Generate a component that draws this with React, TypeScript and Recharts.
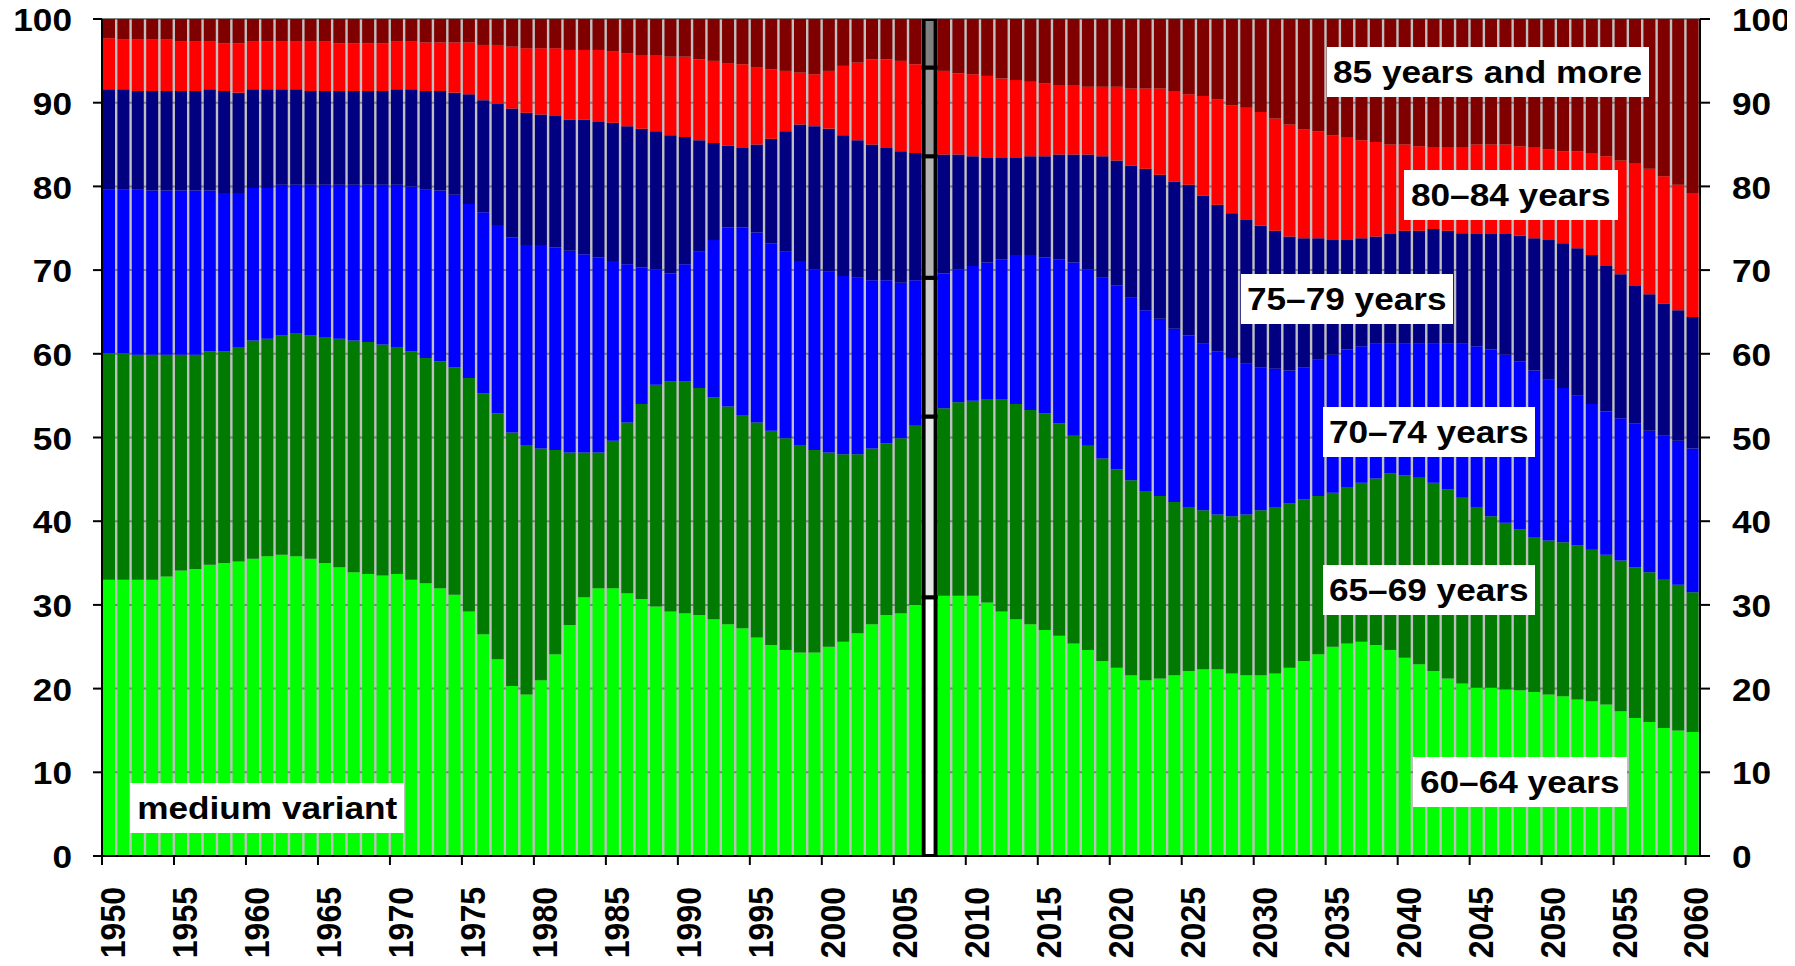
import React from 'react';
import { BarChart, Bar, XAxis, YAxis, CartesianGrid, Cell } from 'recharts';

const firstYear = 1950;
const lastYear = 2060;
const years: number[] = [];
for (let y = firstYear; y <= lastYear; y++) years.push(y);

const highlightYear = 2007;

const yTicks = [0, 10, 20, 30, 40, 50, 60, 70, 80, 90, 100];

// shares (%) of the 60+ population, 1950..2060
const age60to64 = [
  33.0, 33.0, 33.0, 33.0, 33.4, 34.1, 34.3, 34.8, 35.0, 35.2,
  35.5, 35.8, 36.0, 35.8, 35.5, 35.0, 34.5, 33.9, 33.7, 33.5,
  33.7, 33.0, 32.6, 32.0, 31.2, 29.2, 26.5, 23.5, 20.3, 19.3,
  21.0, 24.1, 27.6, 30.9, 32.0, 32.0, 31.4, 30.7, 29.8, 29.2,
  29.0, 28.8, 28.3, 27.7, 27.2, 26.1, 25.2, 24.6, 24.3, 24.3,
  25.0, 25.6, 26.6, 27.7, 28.8, 29.0, 30.0, 30.9, 31.1, 31.1,
  31.1, 30.3, 29.2, 28.3, 27.7, 27.0, 26.3, 25.4, 24.6, 23.3,
  22.5, 21.6, 21.0, 21.2, 21.6, 22.1, 22.3, 22.3, 21.8, 21.6,
  21.6, 21.8, 22.5, 23.3, 24.1, 25.0, 25.4, 25.6, 25.2, 24.6,
  23.7, 22.9, 22.1, 21.2, 20.6, 20.1, 20.1, 19.9, 19.8, 19.6,
  19.3, 19.1, 18.7, 18.5, 18.1, 17.3, 16.5, 16.0, 15.3, 15.0,
  14.8,
];
const age65to69 = [
  27.1, 27.1, 26.9, 26.9, 26.5, 25.8, 25.6, 25.5, 25.3, 25.6,
  26.1, 26.0, 26.2, 26.7, 26.7, 27.0, 27.3, 27.7, 27.7, 27.6,
  27.1, 27.3, 26.9, 27.1, 27.2, 27.9, 28.8, 29.4, 30.3, 29.8,
  27.7, 24.4, 20.6, 17.3, 16.2, 17.6, 20.4, 23.3, 26.5, 27.5,
  27.7, 27.1, 26.5, 26.0, 25.5, 25.7, 25.6, 25.3, 24.8, 24.2,
  23.2, 22.4, 21.4, 21.0, 20.5, 20.9, 21.4, 21.6, 22.4, 23.1,
  23.3, 24.3, 25.4, 25.7, 25.6, 25.9, 25.4, 24.8, 24.4, 24.2,
  23.7, 23.3, 22.6, 21.8, 20.7, 19.6, 19.0, 18.5, 18.8, 19.2,
  19.7, 19.9, 19.6, 19.3, 18.9, 18.4, 18.7, 19.0, 19.9, 21.1,
  21.8, 22.3, 22.5, 22.6, 22.2, 21.6, 20.5, 19.9, 19.2, 18.5,
  18.4, 18.4, 18.4, 18.1, 17.9, 18.0, 18.0, 17.9, 17.7, 17.4,
  16.7,
];
const age70to74 = [
  19.5, 19.5, 19.7, 19.6, 19.6, 19.6, 19.6, 19.2, 18.9, 18.4,
  18.2, 18.0, 18.0, 17.7, 18.0, 18.2, 18.4, 18.6, 18.8, 19.1,
  19.4, 19.7, 20.1, 20.4, 20.6, 20.8, 21.6, 22.5, 23.3, 23.9,
  24.3, 24.2, 24.1, 23.7, 23.3, 21.5, 18.9, 16.3, 13.8, 12.9,
  14.0, 16.3, 18.8, 21.4, 22.4, 22.7, 22.4, 22.3, 22.0, 21.6,
  21.6, 21.3, 21.1, 20.1, 19.5, 18.6, 17.4, 16.6, 16.1, 15.9,
  16.1, 16.3, 16.7, 17.8, 18.5, 18.6, 19.6, 20.7, 21.1, 21.6,
  22.0, 21.8, 21.6, 21.2, 20.7, 20.5, 19.9, 19.5, 18.9, 18.0,
  17.1, 16.5, 15.9, 15.8, 16.3, 16.5, 16.4, 16.3, 16.1, 15.5,
  15.7, 16.0, 16.6, 17.4, 18.4, 19.2, 19.9, 20.1, 20.1, 19.9,
  19.2, 18.4, 17.9, 17.4, 17.1, 17.0, 17.2, 16.9, 17.2, 17.2,
  17.2,
];
const age75to79 = [
  12.0, 12.0, 11.8, 11.9, 11.9, 11.9, 11.9, 12.1, 12.2, 12.0,
  11.8, 11.8, 11.4, 11.4, 11.2, 11.2, 11.2, 11.2, 11.2, 11.2,
  11.4, 11.6, 11.8, 11.9, 12.2, 13.1, 13.4, 14.5, 15.4, 15.8,
  15.6, 15.7, 15.7, 16.1, 16.2, 16.5, 16.5, 16.6, 16.5, 16.5,
  15.2, 13.3, 11.6, 9.8, 9.5, 10.5, 12.5, 14.4, 16.3, 17.1,
  17.1, 16.8, 16.4, 16.2, 15.8, 15.7, 15.2, 14.5, 14.2, 13.7,
  13.1, 12.5, 12.1, 11.6, 11.8, 12.1, 12.5, 12.9, 13.7, 14.5,
  14.9, 15.8, 16.9, 17.2, 17.6, 18.0, 17.7, 17.5, 17.3, 17.2,
  16.9, 16.5, 16.0, 15.4, 14.5, 13.7, 13.1, 12.9, 12.8, 13.1,
  13.5, 13.5, 13.7, 13.5, 13.2, 13.4, 13.8, 14.4, 15.0, 15.8,
  16.7, 17.3, 17.6, 17.8, 17.4, 17.2, 16.4, 16.3, 15.8, 15.6,
  15.7,
];
const age80to84 = [
  6.1, 6.0, 6.2, 6.2, 6.2, 5.9, 5.9, 5.7, 5.7, 5.9,
  5.7, 5.7, 5.7, 5.7, 5.9, 5.9, 5.7, 5.7, 5.7, 5.7,
  5.7, 5.7, 5.8, 5.8, 6.0, 6.2, 6.6, 7.0, 7.4, 7.7,
  7.9, 8.1, 8.3, 8.3, 8.6, 8.5, 8.7, 8.8, 9.1, 9.4,
  9.6, 9.7, 9.8, 9.8, 10.0, 9.2, 8.3, 7.2, 6.2, 6.2,
  6.9, 8.3, 9.3, 10.2, 10.6, 10.8, 10.6, 10.6, 10.0, 9.7,
  9.8, 9.8, 9.5, 9.3, 8.9, 8.7, 8.3, 8.3, 8.1, 8.3,
  8.8, 9.2, 9.6, 10.3, 10.8, 10.8, 11.9, 12.6, 12.9, 13.4,
  13.6, 13.4, 13.4, 13.0, 12.8, 12.5, 12.3, 11.7, 11.3, 10.7,
  10.3, 10.1, 9.8, 10.0, 10.3, 10.7, 10.7, 10.7, 10.7, 10.9,
  10.8, 11.0, 11.6, 12.2, 13.1, 13.6, 14.7, 15.0, 15.2, 15.0,
  14.8,
];
const age85plus = [
  2.3, 2.4, 2.4, 2.4, 2.4, 2.7, 2.7, 2.7, 2.9, 2.9,
  2.7, 2.7, 2.7, 2.7, 2.7, 2.7, 2.9, 2.9, 2.9, 2.9,
  2.7, 2.7, 2.8, 2.8, 2.8, 2.8, 3.1, 3.1, 3.3, 3.5,
  3.5, 3.5, 3.7, 3.7, 3.7, 3.9, 4.1, 4.3, 4.3, 4.5,
  4.5, 4.8, 5.0, 5.3, 5.4, 5.8, 6.0, 6.2, 6.4, 6.6,
  6.2, 5.6, 5.2, 4.8, 4.8, 5.0, 5.4, 5.8, 6.2, 6.5,
  6.6, 6.8, 7.1, 7.3, 7.5, 7.7, 7.9, 7.9, 8.1, 8.1,
  8.1, 8.3, 8.3, 8.3, 8.6, 9.0, 9.2, 9.6, 10.3, 10.6,
  11.1, 11.9, 12.6, 13.2, 13.4, 13.9, 14.1, 14.5, 14.7, 15.0,
  15.0, 15.2, 15.3, 15.3, 15.3, 15.0, 15.0, 15.0, 15.2, 15.3,
  15.6, 15.8, 15.8, 16.0, 16.4, 16.9, 17.2, 17.9, 18.8, 19.8,
  20.8,
];

const seriesDefs = [
  { key: 'a60', name: '60–64 years', values: age60to64, color: '#00FF00', grey: '#FFFFFF' },
  { key: 'a65', name: '65–69 years', values: age65to69, color: '#007A00', grey: '#E6E6E6' },
  { key: 'a70', name: '70–74 years', values: age70to74, color: '#0000FF', grey: '#CCCCCC' },
  { key: 'a75', name: '75–79 years', values: age75to79, color: '#000080', grey: '#B3B3B3' },
  { key: 'a80', name: '80–84 years', values: age80to84, color: '#FF0000', grey: '#999999' },
  { key: 'a85', name: '85 years and more', values: age85plus, color: '#800000', grey: '#808080' },
];

const data = years.map((year, i) => {
  const row: Record<string, number> = { year };
  seriesDefs.forEach((s) => {
    row[s.key] = s.values[i];
  });
  return row;
});

const FONT = "'Liberation Sans', Arial, Helvetica, sans-serif";
const STRETCH = 1.1;

const XTick = (props: any) => {
  const { x, y, payload } = props;
  const half = typeof payload?.offset === 'number' && payload.offset > 0 ? payload.offset : 7.2;
  return (
    <g>
      <line x1={x - half} x2={x - half} y1={y} y2={y + 9} stroke="#000" strokeWidth={2} />
      <g transform={`translate(${x + 3}, ${y + 31}) scale(${STRETCH}, 1) rotate(-90)`}>
        <text textAnchor="end" dy="0.36em" fontSize={32} fontWeight="bold" fontFamily={FONT} fill="#000">
          {payload.value}
        </text>
      </g>
    </g>
  );
};

const LeftTick = (props: any) => {
  const { x, y, payload } = props;
  return (
    <g transform={`translate(${x}, ${y}) scale(${STRETCH}, 1)`}>
      <text textAnchor="end" dy="0.38em" fontSize={32} fontWeight="bold" fontFamily={FONT} fill="#000">
        {payload.value}
      </text>
    </g>
  );
};

const RightTick = (props: any) => {
  const { x, y, payload } = props;
  return (
    <g transform={`translate(${x}, ${y}) scale(${STRETCH}, 1)`}>
      <text textAnchor="start" dy="0.38em" fontSize={32} fontWeight="bold" fontFamily={FONT} fill="#000">
        {payload.value}
      </text>
    </g>
  );
};

const boxLabels = [
  { text: '85 years and more', left: 1319, top: 47, width: 322 },
  { text: '80–84 years', left: 1396, top: 170, width: 214 },
  { text: '75–79 years', left: 1233, top: 274, width: 212 },
  { text: '70–74 years', left: 1315, top: 407, width: 212 },
  { text: '65–69 years', left: 1315, top: 565, width: 212 },
  { text: '60–64 years', left: 1405, top: 757, width: 214 },
  { text: 'medium variant', left: 122, top: 783, width: 274 },
];

export default function App() {
  const hiIndex = years.indexOf(highlightYear);
  return (
    <div style={{ position: 'relative', width: 1787, height: 958, marginTop: -8 }}>
      <BarChart
        width={1787}
        height={958}
        data={data}
        margin={{ top: 19, right: 0, bottom: 0, left: 0 }}
        barSize={12}
      >
        <CartesianGrid
          yAxisId="left"
          vertical={false}
          stroke="#808080"
          strokeWidth={2}
          fill="#C0C0C0"
          fillOpacity={1}
        />
        {seriesDefs.map((s) => (
          <Bar
            key={s.key}
            dataKey={s.key}
            name={s.name}
            stackId="pop"
            yAxisId="left"
            fill={s.color}
            isAnimationActive={false}
          >
            {data.map((_, i) => (
              <Cell
                key={`c-${s.key}-${i}`}
                fill={i === hiIndex ? s.grey : s.color}
                stroke={i === hiIndex ? '#000000' : 'none'}
                strokeWidth={i === hiIndex ? 4 : 0}
              />
            ))}
          </Bar>
        ))}
        <XAxis
          dataKey="year"
          type="category"
          interval={4}
          height={102}
          tickSize={0}
          tickMargin={0}
          tickLine={false}
          axisLine={{ stroke: '#000', strokeWidth: 2 }}
          tick={<XTick />}
        />
        <YAxis
          yAxisId="left"
          orientation="left"
          width={94}
          domain={[0, 100]}
          ticks={yTicks}
          allowDataOverflow
          interval={0}
          tickSize={9}
          tickMargin={21}
          axisLine={{ stroke: '#000', strokeWidth: 2 }}
          tickLine={{ stroke: '#000', strokeWidth: 2 }}
          tick={<LeftTick />}
        />
        <YAxis
          yAxisId="right"
          orientation="right"
          width={95}
          domain={[0, 100]}
          ticks={yTicks}
          allowDataOverflow
          interval={0}
          tickSize={10}
          tickMargin={22}
          axisLine={{ stroke: '#000', strokeWidth: 2 }}
          tickLine={{ stroke: '#000', strokeWidth: 2 }}
          tick={<RightTick />}
        />
      </BarChart>
      {boxLabels.map((b) => (
        <div
          key={b.text}
          style={{
            position: 'absolute',
            left: b.left,
            top: b.top,
            width: b.width,
            height: 50,
            background: '#FFFFFF',
            display: 'flex',
            alignItems: 'center',
            justifyContent: 'center',
            fontFamily: FONT,
            fontWeight: 700,
            fontSize: 32,
            color: '#000',
            whiteSpace: 'nowrap',
          }}
        >
          <span style={{ display: 'inline-block', transform: `scaleX(${STRETCH})` }}>{b.text}</span>
        </div>
      ))}
    </div>
  );
}
